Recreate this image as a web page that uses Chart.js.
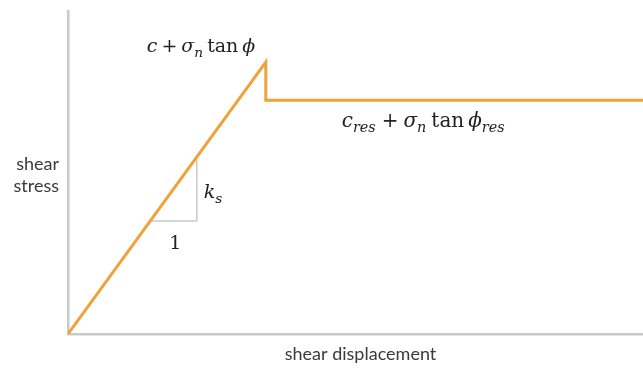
<!DOCTYPE html>
<html>
<head>
<meta charset="utf-8">
<script src="https://cdn.jsdelivr.net/npm/chart.js@4/dist/chart.umd.min.js"></script>
<style>
  html, body { margin: 0; padding: 0; background: #fff; }
  #wrap { width: 643px; height: 370px; }
</style>
</head>
<body>
<div id="wrap"><canvas id="chart"></canvas></div>
<script>
// shear displacement vs shear stress (arbitrary units)
const displacement = [0, 34.4, 34.4, 100];
const stress = [0, 84.2, 72.4, 72.4];

// slope triangle (1 : ks)
const slopeX = [14.6, 22.4, 22.4];
const slopeY = [35.0, 35.0, 54.0];

const ORANGE = '#f0a23a';
const AXIS = '#c9c9c9';
const MATH_FONT = '"DejaVu Serif", "Liberation Serif", serif';

const toPoints = (xs, ys) => xs.map((x, i) => ({ x, y: ys[i] }));

// draw a run of math text: pieces can be italic and/or subscript
function drawRuns(ctx, runs, x, y, size) {
    let cx = x;
    runs.forEach(r => {
        const s = r.sub ? size * 0.72 : size;
        ctx.font = (r.italic ? 'italic ' : '') + s + 'px ' + MATH_FONT;
        ctx.fillText(r.t, cx, r.sub ? y + 5 : y);
        cx += ctx.measureText(r.t).width + (r.gap || 0);
    });
}

const labelsPlugin = {
    id: 'labels',
    afterDraw(chart) {
        const { ctx, scales } = chart;
        const xs = scales.x, ys = scales.y;
        ctx.save();
        ctx.textBaseline = 'alphabetic';

        // axis titles
        ctx.fillStyle = '#3a3a3a';
        ctx.font = '18px Lato';
        ctx.textAlign = 'center';
        ctx.fillText('shear displacement', (xs.left + xs.right) / 2 + 5, ys.bottom + 26);
        ctx.textAlign = 'right';
        ctx.fillText('shear', xs.left - 9, 170);
        ctx.fillText('stress', xs.left - 9, 192);

        // math annotations
        ctx.fillStyle = '#222';
        ctx.textAlign = 'left';
        const peakX = xs.getPixelForValue(displacement[1]);
        const peakY = ys.getPixelForValue(stress[1]);
        drawRuns(ctx, [
            { t: 'c', italic: true, gap: 4 }, { t: '+', gap: 4 },
            { t: 'σ', italic: true }, { t: 'n', italic: true, sub: true, gap: 4 },
            { t: 'tan', gap: 4 }, { t: 'ϕ', italic: true }
        ], peakX - 119, peakY - 10, 19);

        const resY = ys.getPixelForValue(stress[3]);
        drawRuns(ctx, [
            { t: 'c', italic: true }, { t: 'res', italic: true, sub: true, gap: 6 }, { t: '+', gap: 5 },
            { t: 'σ', italic: true }, { t: 'n', italic: true, sub: true, gap: 5 },
            { t: 'tan', gap: 4 }, { t: 'ϕ', italic: true }, { t: 'res', italic: true, sub: true }
        ], xs.getPixelForValue(47.6), resY + 27, 20);

        const triX = xs.getPixelForValue(slopeX[1]);
        const triY = ys.getPixelForValue(slopeY[0]);
        drawRuns(ctx, [
            { t: 'k', italic: true }, { t: 's', italic: true, sub: true }
        ], triX + 7, triY - 23, 19);
        ctx.textAlign = 'center';
        ctx.font = '19px ' + MATH_FONT;
        ctx.fillText('1', (xs.getPixelForValue(slopeX[0]) + triX) / 2 + 1, triY + 28);

        ctx.restore();
    }
};

new Chart(document.getElementById('chart'), {
    type: 'line',
    data: {
        datasets: [
            {
                data: toPoints(displacement, stress),
                borderColor: ORANGE,
                borderWidth: 3,
                borderJoinStyle: 'miter',
                pointRadius: 0,
                tension: 0
            },
            {
                data: toPoints(slopeX, slopeY),
                borderColor: AXIS,
                borderWidth: 1.5,
                pointRadius: 0,
                tension: 0
            }
        ]
    },
    options: {
        responsive: true,
        maintainAspectRatio: false,
        animation: false,
        layout: { padding: { left: 68, top: 11, right: 0, bottom: 36 } },
        plugins: { legend: { display: false }, tooltip: { enabled: false } },
        scales: {
            x: {
                type: 'linear', min: 0, max: 100,
                grid: { display: false, drawTicks: false },
                ticks: { display: false },
                border: { display: true, color: AXIS, width: 2.5 },
                afterFit: s => { s.height = 0; }
            },
            y: {
                type: 'linear', min: 0, max: 100,
                grid: { display: false, drawTicks: false },
                ticks: { display: false },
                border: { display: true, color: AXIS, width: 2.5 },
                afterFit: s => { s.width = 0; }
            }
        }
    },
    plugins: [labelsPlugin]
});
</script>
</body>
</html>
